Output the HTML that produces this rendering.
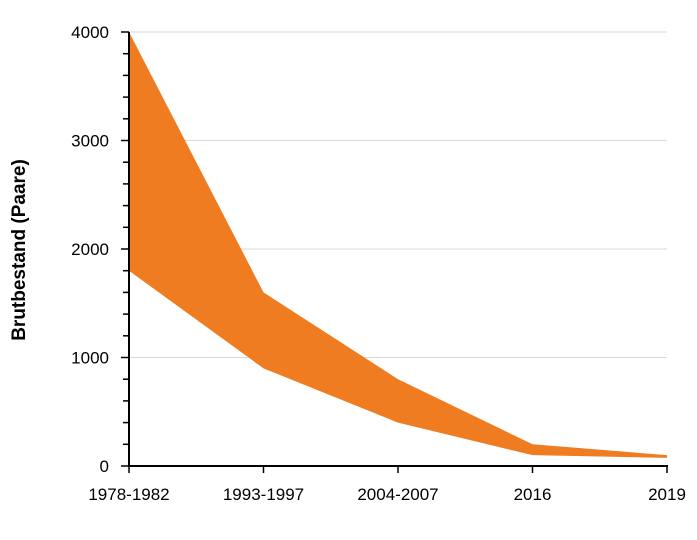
<!DOCTYPE html>
<html><head><meta charset="utf-8"><style>
body{margin:0;background:#fff;font-family:"Liberation Sans",sans-serif}
svg text{font-family:"Liberation Sans",sans-serif;fill:#000}
</style></head><body>
<svg id="chart" width="697" height="535" xmlns="http://www.w3.org/2000/svg"></svg>
<script>
const categories=["1978-1982","1993-1997","2004-2007","2016","2019"];
const upperValues=[4000,1600,800,200,100];
const lowerValues=[1800,900,400,100,75];
const yTicks=[0,1000,2000,3000,4000];
const NS="http://www.w3.org/2000/svg";
const svg=document.getElementById('chart');
const x0=129,x1=667,y0=466,y1=32,yMax=4000;
function xs(i){return x0+i*(x1-x0)/(categories.length-1);}
function ys(v){return y0-v/yMax*(y0-y1);}
function mk(tag,attrs,name){const e=document.createElementNS(NS,tag);for(const k in attrs)e.setAttribute(k,attrs[k]);


svg.appendChild(e);return e;}
yTicks.forEach(t=>{
 if(t>0) mk('line',{x1:x0,x2:x1,y1:ys(t),y2:ys(t),stroke:'#d9d9d9','stroke-width':1},'gridline');
 const tx=mk('text',{x:109,y:ys(t)+6,'text-anchor':'end','font-size':17},'y-tick-label');tx.textContent=t;
});
let pts=[];
upperValues.forEach((v,i)=>pts.push(xs(i)+','+ys(v)));
for(let i=lowerValues.length-1;i>=0;i--)pts.push(xs(i)+','+ys(lowerValues[i]));
mk('polygon',{points:pts.join(' '),fill:'#f07c21'},'range-area');
mk('line',{x1:x0,x2:x0,y1:y1,y2:y0,stroke:'#000','stroke-width':2},'y-axis');
mk('line',{x1:x0-1,x2:x1+1,y1:y0,y2:y0,stroke:'#000','stroke-width':2},'x-axis');
for(let v=0;v<=yMax;v+=200){const major=v%1000===0;
 mk('line',{x1:major?x0-8:x0-6,x2:x0,y1:ys(v),y2:ys(v),stroke:'#000','stroke-width':1.5},'y-tick');}
categories.forEach((c,i)=>{
 mk('line',{x1:xs(i),x2:xs(i),y1:y0,y2:y0+7,stroke:'#000','stroke-width':1.5},'x-tick');
 const tx=mk('text',{x:xs(i),y:500,'text-anchor':'middle','font-size':17},'x-tick-label');tx.textContent=c;
});
const t=mk('text',{x:0,y:0,'text-anchor':'middle','font-size':19,'font-weight':'bold',transform:'translate(25,250) rotate(-90)'},'y-axis-title');
t.textContent='Brutbestand (Paare)';
</script>
</body></html>
